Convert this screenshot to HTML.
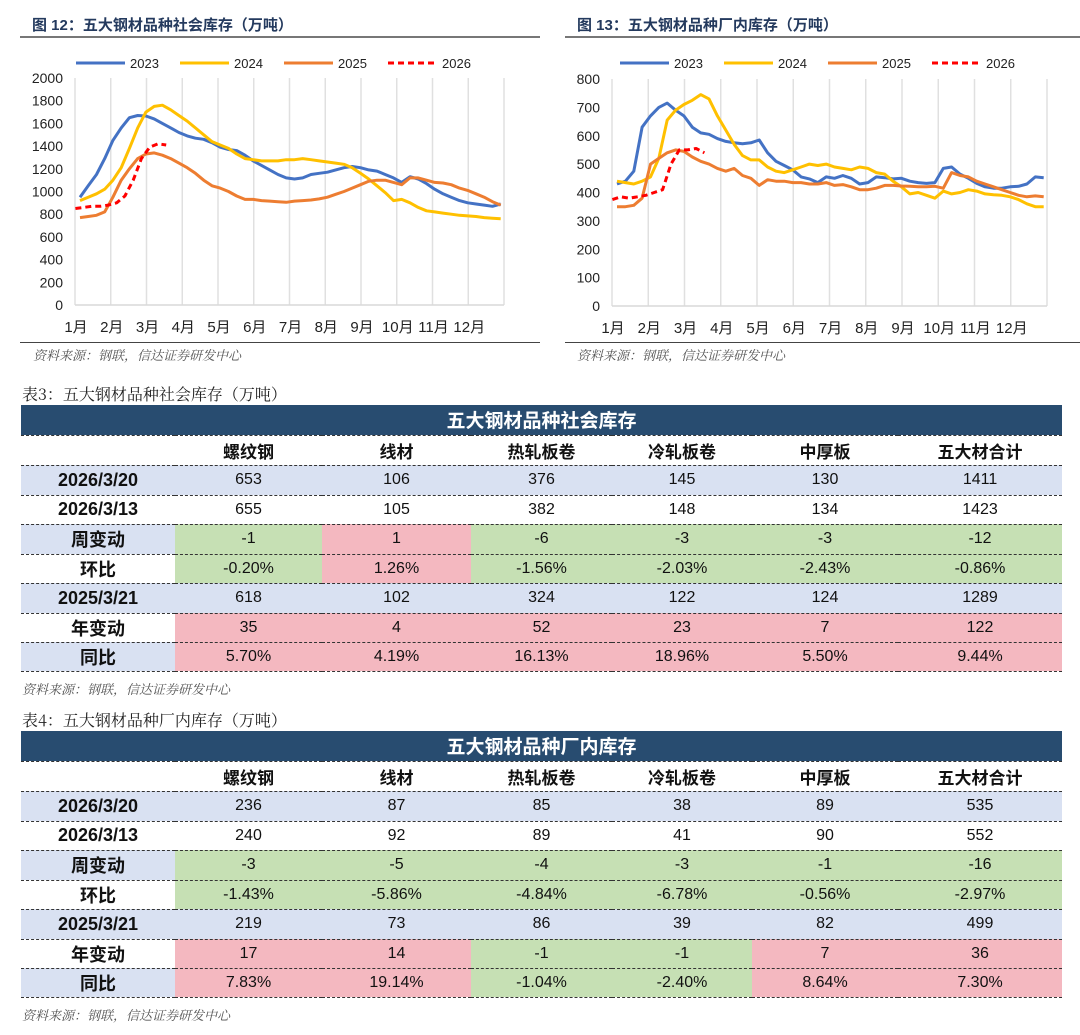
<!DOCTYPE html>
<html><head><meta charset="utf-8">
<style>
body{margin:0;width:1080px;height:1035px;background:#fff;position:relative;overflow:hidden;font-family:"Liberation Sans","Noto Sans CJK SC",sans-serif;}
.abs{position:absolute;}
.ctitle{font-size:15px;font-weight:bold;color:#243a5e;white-space:nowrap;}
.hr{position:absolute;height:2px;background:#777;}
.src{font-size:13px;color:#555;font-style:italic;font-family:"Noto Serif CJK SC","Liberation Serif",serif;white-space:nowrap;}
.ttitle{font-size:16px;color:#222;font-family:"Noto Serif CJK SC","Liberation Serif",serif;white-space:nowrap;}
table{position:absolute;left:21px;border-collapse:collapse;table-layout:fixed;width:1041px;}
td{padding:0;text-align:center;font-size:16px;color:#111;border-top:1px dashed #333;white-space:nowrap;font-family:"Liberation Sans","Noto Sans CJK SC",sans-serif;}
td.lab{font-weight:bold;font-size:18px;}
tr.big td{background:#284c70;color:#fff;font-weight:bold;font-size:19px;border-top:none;}
tr.hd td{font-weight:bold;font-size:17px;}
.b{background:#d9e1f2}.g{background:#c6e0b4}.p{background:#f4b8c0}
</style></head><body>

<div class="abs ctitle" style="left:32px;top:14px">图 12：五大钢材品种社会库存（万吨）</div>
<div class="hr" style="left:20px;top:36px;width:520px"></div>
<div class="abs ctitle" style="left:577px;top:14px">图 13：五大钢材品种厂内库存（万吨）</div>
<div class="hr" style="left:565px;top:36px;width:515px"></div>

<svg class="abs" style="left:0;top:0" width="1080" height="370" id="charts"></svg>

<div class="hr" style="left:20px;top:342px;width:520px;height:1px;background:#444"></div>
<div class="hr" style="left:565px;top:342px;width:515px;height:1px;background:#444"></div>
<div class="abs src" style="left:33px;top:345px">资料来源：钢联，信达证券研发中心</div>
<div class="abs src" style="left:577px;top:345px">资料来源：钢联，信达证券研发中心</div>

<div class="abs ttitle" style="left:22px;top:382px">表3：五大钢材品种社会库存（万吨）</div>
<table style="top:405px">
<colgroup><col style="width:154px"><col style="width:147px"><col style="width:149px"><col style="width:141px"><col style="width:140px"><col style="width:146px"><col style="width:164px"></colgroup>
<tr class="big" style="height:30px"><td colspan="7">五大钢材品种社会库存</td></tr>
<tr class="hd" style="height:30px"><td></td><td>螺纹钢</td><td>线材</td><td>热轧板卷</td><td>冷轧板卷</td><td>中厚板</td><td>五大材合计</td></tr>
<tr style="height:30px" class="b"><td class="lab">2026/3/20</td><td>653</td><td>106</td><td>376</td><td>145</td><td>130</td><td>1411</td></tr>
<tr style="height:29px"><td class="lab">2026/3/13</td><td>655</td><td>105</td><td>382</td><td>148</td><td>134</td><td>1423</td></tr>
<tr style="height:30px"><td class="lab b">周变动</td><td class="g">-1</td><td class="p">1</td><td class="g">-6</td><td class="g">-3</td><td class="g">-3</td><td class="g">-12</td></tr>
<tr style="height:29px"><td class="lab">环比</td><td class="g">-0.20%</td><td class="p">1.26%</td><td class="g">-1.56%</td><td class="g">-2.03%</td><td class="g">-2.43%</td><td class="g">-0.86%</td></tr>
<tr style="height:30px" class="b"><td class="lab">2025/3/21</td><td>618</td><td>102</td><td>324</td><td>122</td><td>124</td><td>1289</td></tr>
<tr style="height:29px"><td class="lab">年变动</td><td class="p">35</td><td class="p">4</td><td class="p">52</td><td class="p">23</td><td class="p">7</td><td class="p">122</td></tr>
<tr style="height:29px;border-bottom:1px dashed #333"><td class="lab b">同比</td><td class="p">5.70%</td><td class="p">4.19%</td><td class="p">16.13%</td><td class="p">18.96%</td><td class="p">5.50%</td><td class="p">9.44%</td></tr>
</table>
<div class="abs src" style="left:22px;top:679px">资料来源：钢联，信达证券研发中心</div>

<div class="abs ttitle" style="left:22px;top:708px">表4：五大钢材品种厂内库存（万吨）</div>
<table style="top:731px">
<colgroup><col style="width:154px"><col style="width:147px"><col style="width:149px"><col style="width:141px"><col style="width:140px"><col style="width:146px"><col style="width:164px"></colgroup>
<tr class="big" style="height:30px"><td colspan="7">五大钢材品种厂内库存</td></tr>
<tr class="hd" style="height:30px"><td></td><td>螺纹钢</td><td>线材</td><td>热轧板卷</td><td>冷轧板卷</td><td>中厚板</td><td>五大材合计</td></tr>
<tr style="height:30px" class="b"><td class="lab">2026/3/20</td><td>236</td><td>87</td><td>85</td><td>38</td><td>89</td><td>535</td></tr>
<tr style="height:29px"><td class="lab">2026/3/13</td><td>240</td><td>92</td><td>89</td><td>41</td><td>90</td><td>552</td></tr>
<tr style="height:30px"><td class="lab b">周变动</td><td class="g">-3</td><td class="g">-5</td><td class="g">-4</td><td class="g">-3</td><td class="g">-1</td><td class="g">-16</td></tr>
<tr style="height:29px"><td class="lab">环比</td><td class="g">-1.43%</td><td class="g">-5.86%</td><td class="g">-4.84%</td><td class="g">-6.78%</td><td class="g">-0.56%</td><td class="g">-2.97%</td></tr>
<tr style="height:30px" class="b"><td class="lab">2025/3/21</td><td>219</td><td>73</td><td>86</td><td>39</td><td>82</td><td>499</td></tr>
<tr style="height:29px"><td class="lab">年变动</td><td class="p">17</td><td class="p">14</td><td class="g">-1</td><td class="g">-1</td><td class="p">7</td><td class="p">36</td></tr>
<tr style="height:29px;border-bottom:1px dashed #333"><td class="lab b">同比</td><td class="p">7.83%</td><td class="p">19.14%</td><td class="g">-1.04%</td><td class="g">-2.40%</td><td class="p">8.64%</td><td class="p">7.30%</td></tr>
</table>
<div class="abs src" style="left:22px;top:1005px">资料来源：钢联，信达证券研发中心</div>

<script>
const months = ["1月","2月","3月","4月","5月","6月","7月","8月","9月","10月","11月","12月"];
const seriesNames = ["2023","2024","2025","2026"];
const leftTicks = [0,200,400,600,800,1000,1200,1400,1600,1800,2000];
const rightTicks = [0,100,200,300,400,500,600,700,800];
const social2023 = [950,1050,1150,1290,1450,1560,1650,1670,1665,1640,1600,1560,1520,1490,1470,1460,1430,1390,1370,1360,1320,1270,1230,1190,1150,1120,1110,1120,1150,1160,1170,1190,1210,1220,1210,1190,1180,1150,1120,1080,1130,1110,1070,1020,980,950,920,900,890,880,870,890];
const social2024 = [920,950,980,1020,1100,1210,1380,1560,1700,1750,1760,1720,1670,1620,1560,1500,1440,1410,1380,1330,1290,1280,1270,1270,1270,1280,1280,1290,1280,1270,1260,1250,1240,1210,1160,1110,1050,990,920,930,900,860,830,820,810,800,790,785,780,770,765,760];
const social2025 = [770,780,790,820,950,1100,1200,1290,1330,1340,1320,1290,1250,1210,1160,1100,1050,1030,1000,960,930,930,920,915,910,905,915,920,925,935,950,975,1000,1030,1060,1090,1100,1100,1080,1060,1120,1120,1100,1080,1075,1060,1030,1010,980,950,910,880];
const social2026 = [850,860,870,870,880,900,960,1100,1290,1390,1420,1410];
const factory2023 = [430,440,475,630,670,700,715,690,670,630,610,605,590,580,575,572,575,585,540,510,495,480,455,448,435,455,450,460,450,430,435,455,452,448,450,440,435,432,435,485,490,465,450,432,420,415,415,420,422,430,455,452];
const factory2024 = [440,435,430,440,455,520,655,690,710,725,745,730,670,620,570,530,515,515,490,475,470,480,490,500,495,500,490,485,480,490,485,470,465,440,420,395,400,390,380,405,395,400,410,405,395,392,390,385,375,360,350,350];
const factory2025 = [350,350,355,380,500,520,540,550,545,525,510,500,485,475,485,460,450,425,445,440,440,435,435,430,430,435,425,428,420,410,410,415,425,425,423,422,420,420,422,415,470,460,455,440,430,420,410,400,390,385,388,385];
const factory2026 = [375,385,380,385,390,400,410,500,550,550,555,540];

const NS="http://www.w3.org/2000/svg";
const svg=document.getElementById('charts');
function mk(tag,attrs,parent){const e=document.createElementNS(NS,tag);for(const k in attrs)e.setAttribute(k,attrs[k]);(parent||svg).appendChild(e);return e;}
const colors=["#4472c4","#ffc000","#ed7d31","#ff0000"];

function drawChart(cfg,prefix){
  const xs=w=>cfg.x0+w*(cfg.x1-cfg.x0)/52;
  const ys=v=>cfg.y0-v*(cfg.y0-cfg.yTop)/cfg.max;
  const g=mk('g',{});
  
  
  for(let k=0;k<=12;k++){
    const x=cfg.x0+k*(cfg.x1-cfg.x0)/12;
    const ln=mk('line',{x1:x,x2:x,y1:cfg.yTop,y2:cfg.y0,stroke:'#e0e0e0','stroke-width':1.5},g);
    
    
  }
  mk('line',{x1:cfg.x0,x2:cfg.x1,y1:cfg.y0,y2:cfg.y0,stroke:'#d9d9d9','stroke-width':1.5},g);
  cfg.ticks.forEach(t=>{
    const tx=mk('text',{x:cfg.x0-12,y:ys(t)+5,'text-anchor':'end','font-size':14,fill:'#222','font-family':'Liberation Sans'},g);
    tx.textContent=t;
    
    
  });
  months.forEach((m,k)=>{
    const x=cfg.x0+k*(cfg.x1-cfg.x0)/12;
    const tx=mk('text',{x:x+1,y:cfg.y0+27,'text-anchor':'middle','font-size':15,fill:'#222','font-family':'Liberation Sans, Noto Sans CJK SC'},g);
    tx.textContent=m;
    
    
  });
  cfg.series.forEach((s,i)=>{
    const off=(i===3)?0.05:0.6;
    const pts=s.map((v,j)=>xs(j+off).toFixed(1)+','+ys(v).toFixed(1)).join(' ');
    const pl=mk('polyline',{points:pts,fill:'none',stroke:colors[i],'stroke-width':3,'stroke-linejoin':'round','stroke-dasharray':i===3?'6,4':'none'},g);
    
    
  });
  seriesNames.forEach((n,i)=>{
    const lx=cfg.legX[i];
    const le=mk('g',{},g);
    
    
    mk('line',{x1:lx,x2:lx+49,y1:63,y2:63,stroke:colors[i],'stroke-width':3,'stroke-dasharray':i===3?'6,4':'none'},le);
    const tx=mk('text',{x:lx+54,y:68,'font-size':13,fill:'#222','font-family':'Liberation Sans'},le);
    tx.textContent=n;
  });
}
drawChart({x0:75,x1:504,y0:305,yTop:78,max:2000,ticks:leftTicks,series:[social2023,social2024,social2025,social2026],legX:[76,180,284,388]},'social-chart');
drawChart({x0:612,x1:1047,y0:306,yTop:79,max:800,ticks:rightTicks,series:[factory2023,factory2024,factory2025,factory2026],legX:[620,724,828,932]},'factory-chart');
</script>
</body></html>
